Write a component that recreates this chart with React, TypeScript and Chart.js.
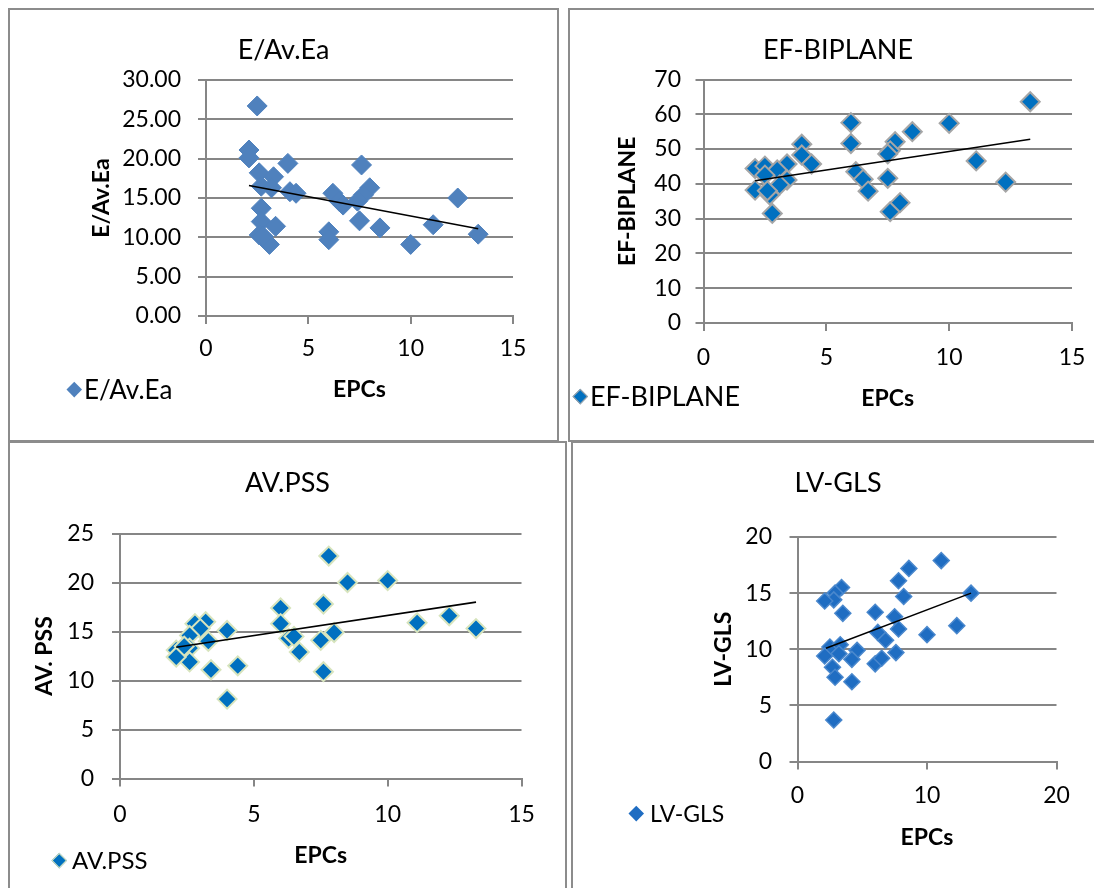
import React, { useEffect, useRef } from "react";
import { Chart, registerables } from "chart.js";

Chart.register(...registerables);

// ---------------- data ----------------
const eaEpcs = [2.5, 2.1, 2.1, 2.6, 3.3, 4.0, 7.6, 2.7, 3.2, 4.1, 4.4, 6.2, 8.0, 7.7, 6.5, 6.7, 7.4, 2.7, 2.7, 7.5, 3.4, 8.5, 11.1, 12.3, 13.3, 6.0, 6.0, 2.6, 3.1, 10.0, 2.8];
const eaValues = [26.7, 21.1, 20.1, 18.2, 17.7, 19.4, 19.2, 16.5, 16.3, 15.8, 15.6, 15.6, 16.3, 15.4, 14.6, 14.1, 14.6, 13.7, 12.0, 12.1, 11.4, 11.2, 11.6, 15.0, 10.4, 10.7, 9.7, 10.3, 9.1, 9.1, 10.1];
const eaTrendX = [2.1, 13.3];
const eaTrendY = [16.6, 11.1];

const efEpcs = [13.3, 10.0, 6.0, 6.0, 8.5, 7.8, 7.6, 7.5, 7.6, 8.0, 11.1, 12.3, 4.0, 4.0, 4.4, 2.1, 2.5, 3.4, 3.0, 2.5, 3.4, 3.1, 2.1, 2.7, 2.8, 6.2, 6.5, 6.7, 2.6, 7.5];
const efValues = [63.6, 57.4, 57.6, 51.6, 55.0, 52.1, 49.5, 41.6, 32.0, 34.6, 46.6, 40.5, 51.4, 48.3, 45.7, 44.4, 45.1, 45.7, 44.0, 42.5, 41.1, 39.7, 38.2, 36.8, 31.5, 43.5, 41.3, 37.9, 38.0, 48.6];
const efTrendX = [2.1, 13.3];
const efTrendY = [40.9, 52.8];

const pssEpcs = [7.8, 8.5, 10.0, 6.0, 7.6, 11.1, 12.3, 13.3, 8.0, 6.0, 6.3, 6.5, 6.7, 7.5, 7.6, 4.0, 4.0, 4.4, 3.4, 3.3, 3.2, 2.8, 3.0, 2.6, 2.6, 2.6, 2.1, 2.1, 2.4];
const pssValues = [22.7, 20.0, 20.2, 17.4, 17.8, 15.9, 16.6, 15.3, 14.9, 15.8, 14.3, 14.5, 12.9, 14.1, 10.9, 15.1, 8.1, 11.5, 11.1, 14.0, 16.0, 15.8, 15.3, 14.6, 13.3, 11.9, 13.1, 12.4, 13.5];
const pssTrendX = [2.1, 13.3];
const pssTrendY = [13.4, 18.0];

const glsEpcs = [11.1, 8.6, 7.8, 8.2, 13.4, 12.3, 10.0, 6.0, 7.5, 7.8, 6.2, 6.8, 7.6, 6.0, 6.5, 3.4, 2.9, 2.8, 2.1, 3.5, 2.5, 3.3, 3.2, 4.6, 4.2, 2.1, 2.7, 2.9, 4.2, 2.8];
const glsValues = [17.9, 17.2, 16.1, 14.7, 15.0, 12.1, 11.3, 13.3, 12.9, 11.8, 11.5, 10.8, 9.7, 8.7, 9.2, 15.5, 15.0, 14.4, 14.3, 13.2, 10.2, 10.4, 9.6, 9.9, 9.1, 9.4, 8.4, 7.5, 7.1, 3.7];
const glsTrendX = [2.2, 13.4];
const glsTrendY = [10.1, 15.0];

const xAxisTitle = "EPCs";

// ---------------- styles / layout ----------------
const FONT = "Lato, 'Open Sans', sans-serif";
const GRID = "#868686";
const TICK = 8;
const TICK_SIZE = 23;
const AXT_SIZE = 23;
const TITLE_SIZE = 27;

type Spec = {
  title: string;
  yTitle: string;
  xs: number[];
  ys: number[];
  tx: number[];
  ty: number[];
  xMax: number;
  xStep: number;
  yMax: number;
  yStep: number;
  yDec: number;
  r: number;
  fill: string;
  stroke: string;
  strokeW: number;
  box: [number, number, number, number];
  canvas: [number, number, number, number];
  area: [number, number, number, number];
  titleY: number;
  yTitleX: number;
  yLabelRight: number;
  xLabelY: number;
  xTitleY: number;
  legend: [number, number, number];
  legendSize: number;
};

const panels: Spec[] = [
  {
    title: "E/Av.Ea", yTitle: "E/Av.Ea", xs: eaEpcs, ys: eaValues, tx: eaTrendX, ty: eaTrendY,
    xMax: 15, xStep: 5, yMax: 30, yStep: 5, yDec: 2,
    r: 10, fill: "#4F81BD", stroke: "#4F81BD", strokeW: 1,
    box: [8, 8, 551, 434], canvas: [10, 10, 547, 430], area: [206, 80, 513, 316],
    titleY: 50, yTitleX: 102, yLabelRight: 181, xLabelY: 349, xTitleY: 390,
    legend: [74, 389, 84], legendSize: 26,
  },
  {
    title: "EF-BIPLANE", yTitle: "EF-BIPLANE", xs: efEpcs, ys: efValues, tx: efTrendX, ty: efTrendY,
    xMax: 15, xStep: 5, yMax: 70, yStep: 10, yDec: 0,
    r: 9.5, fill: "#0070C0", stroke: "#A6A6A6", strokeW: 2,
    box: [568, 8, 540, 434], canvas: [570, 10, 536, 430], area: [703.5, 79.5, 1072, 323],
    titleY: 50, yTitleX: 628, yLabelRight: 681, xLabelY: 358, xTitleY: 399,
    legend: [580, 396, 590], legendSize: 27,
  },
  {
    title: "AV.PSS", yTitle: "AV. PSS", xs: pssEpcs, ys: pssValues, tx: pssTrendX, ty: pssTrendY,
    xMax: 15, xStep: 5, yMax: 25, yStep: 5, yDec: 0,
    r: 9.5, fill: "#0070C0", stroke: "#D7E4BD", strokeW: 2,
    box: [8, 441, 559, 460], canvas: [10, 443, 555, 445], area: [120, 533.5, 521.5, 778.5],
    titleY: 483, yTitleX: 45, yLabelRight: 94, xLabelY: 815, xTitleY: 856,
    legend: [59, 860, 72], legendSize: 24,
  },
  {
    title: "LV-GLS", yTitle: "LV-GLS", xs: glsEpcs, ys: glsValues, tx: glsTrendX, ty: glsTrendY,
    xMax: 20, xStep: 10, yMax: 20, yStep: 5, yDec: 0,
    r: 8, fill: "#1F6DC2", stroke: "#4A88CD", strokeW: 1.5,
    box: [571, 441, 540, 460], canvas: [573, 443, 530, 445], area: [797.5, 537, 1056.5, 761.5],
    titleY: 483, yTitleX: 724, yLabelRight: 772, xLabelY: 796, xTitleY: 838,
    legend: [636, 813, 650], legendSize: 23,
  },
];

function Panel({ s }: { s: Spec }) {
  const ref = useRef<HTMLCanvasElement | null>(null);
  useEffect(() => {
    if (!ref.current) return;
    const [cl, ct, cw, ch] = s.canvas;
    const [al, at, ar, ab] = s.area;
    const pad = cl + cw - ar;
    const tickLH = TICK_SIZE * 1.2;
    const axLH = AXT_SIZE * 1.2;
    const tLH = TITLE_SIZE * 1.2;
    const yWidth = al - cl - pad;
    const xHeight = ct + ch - ab;
    const tPadTop = s.titleY - ct - tLH / 2;
    const tPadBottom = at - ct - tPadTop - tLH;
    const chart = new Chart(ref.current, {
      type: "scatter",
      data: {
        datasets: [
          {
            label: "trend",
            data: s.tx.map((x, i) => ({ x, y: s.ty[i] })),
            showLine: true,
            borderColor: "#000000",
            borderWidth: 1.6,
            pointRadius: 0,
            pointHoverRadius: 0,
            fill: false,
          },
          {
            label: s.title,
            data: s.xs.map((x, i) => ({ x, y: s.ys[i] })),
            pointStyle: "rectRot",
            pointRadius: s.r,
            pointHoverRadius: s.r,
            backgroundColor: s.fill,
            borderColor: s.stroke,
            borderWidth: s.strokeW,
            clip: false as any,
          },
        ],
      },
      options: {
        responsive: false,
        animation: false,
        events: [],
        layout: { padding: { left: pad, right: pad, top: 0, bottom: 0 } },
        plugins: {
          legend: { display: false },
          tooltip: { enabled: false },
          title: {
            display: true,
            text: s.title,
            color: "#000000",
            font: { family: FONT, size: TITLE_SIZE, weight: "normal" },
            padding: { top: tPadTop, bottom: tPadBottom },
          },
        },
        scales: {
          x: {
            type: "linear",
            min: 0,
            max: s.xMax,
            ticks: {
              stepSize: s.xStep,
              color: "#000000",
              font: { family: FONT, size: TICK_SIZE },
              padding: s.xLabelY - ab - TICK - tickLH / 2,
              maxRotation: 0,
            },
            grid: { drawOnChartArea: false, drawTicks: true, tickLength: TICK, color: GRID, lineWidth: 2 },
            border: { display: true, color: GRID, width: 2 },
            title: {
              display: true,
              text: xAxisTitle,
              color: "#000000",
              font: { family: FONT, size: AXT_SIZE, weight: "bold" },
              padding: { top: 0, bottom: ct + ch - s.xTitleY - axLH / 2 },
            },
            afterFit: (sc: any) => {
              sc.height = xHeight;
            },
          },
          y: {
            type: "linear",
            min: 0,
            max: s.yMax,
            ticks: {
              stepSize: s.yStep,
              color: "#000000",
              font: { family: FONT, size: TICK_SIZE },
              padding: al - s.yLabelRight - TICK,
              callback: (v: any) => Number(v).toFixed(s.yDec),
            },
            grid: { drawTicks: true, tickLength: TICK, color: GRID, lineWidth: 2 },
            border: { display: true, color: GRID, width: 2 },
            title: {
              display: true,
              text: s.yTitle,
              color: "#000000",
              font: { family: FONT, size: AXT_SIZE, weight: "bold" },
              padding: { top: s.yTitleX - (cl + pad) - axLH / 2, bottom: 0 },
            },
            afterFit: (sc: any) => {
              sc.width = yWidth;
            },
          },
        },
      } as any,
    });
    return () => chart.destroy();
  }, [s]);

  const [bl, bt, bw, bh] = s.box;
  const [cl, ct, cw, ch] = s.canvas;
  const [lx, ly, ltx] = s.legend;
  const dSide = 10.5;
  return (
    <>
      <div
        style={{
          position: "absolute",
          left: bl,
          top: bt,
          width: bw,
          height: bh,
          boxSizing: "border-box",
          border: "2px solid #8C8C8C",
        }}
      />
      <canvas
        ref={ref}
        width={cw}
        height={ch}
        style={{ position: "absolute", left: cl, top: ct, width: cw, height: ch }}
      />
      <div
        style={{
          position: "absolute",
          left: lx - dSide / 2,
          top: ly - dSide / 2,
          width: dSide,
          height: dSide,
          boxSizing: "border-box",
          background: s.fill,
          border: s.strokeW >= 2 ? `1.5px solid ${s.stroke}` : "none",
          transform: "rotate(45deg)",
        }}
      />
      <div
        style={{
          position: "absolute",
          left: ltx,
          top: ly - 16,
          height: 32,
          lineHeight: "32px",
          fontFamily: FONT,
          fontSize: s.legendSize,
          color: "#000",
          whiteSpace: "nowrap",
        }}
      >
        {s.title}
      </div>
    </>
  );
}

export default function App() {
  return (
    <div
      style={{
        position: "absolute",
        left: 0,
        top: 0,
        width: 1094,
        height: 888,
        overflow: "hidden",
        background: "#ffffff",
      }}
    >
      {panels.map((p) => (
        <Panel key={p.title} s={p} />
      ))}
    </div>
  );
}
